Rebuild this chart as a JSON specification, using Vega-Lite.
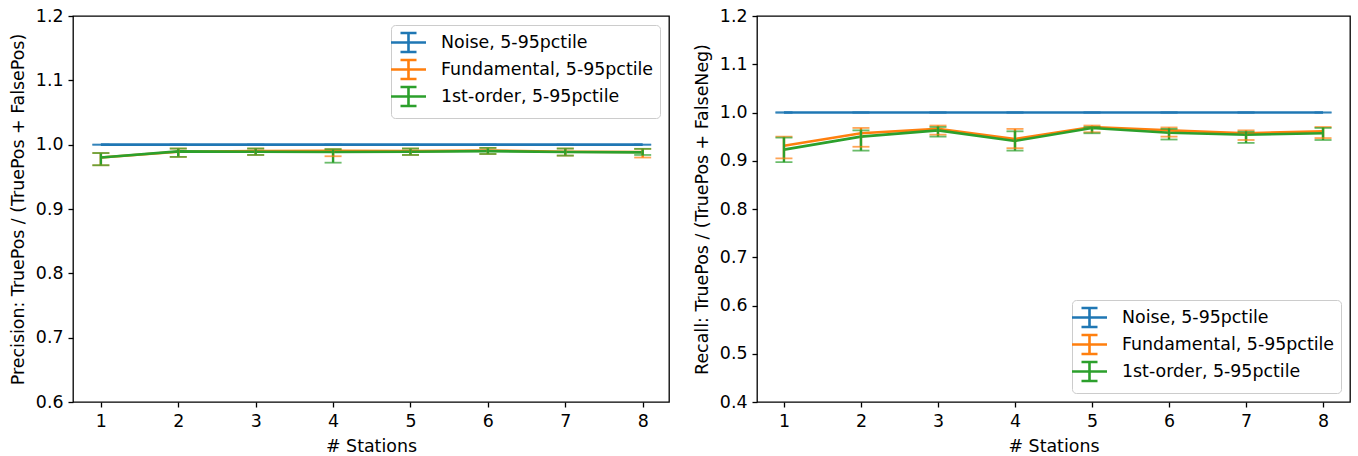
{
  "$schema": "https://vega.github.io/schema/vega-lite/v6.json",
  "background": "white",
  "padding": {"left": 8, "top": 6, "right": 5, "bottom": 2},
  "config": {
    "font": "DejaVu Sans",
    "view": {"stroke": "black", "strokeWidth": 1.3},
    "axis": {
      "grid": false, "domain": false, "tickColor": "black", "tickSize": 5, "tickWidth": 1.3,
      "labelFontSize": 17.4, "labelColor": "black", "titleFontSize": 17.4, "titleFontWeight": "normal",
      "titleColor": "black", "labelPadding": 5
    },
    "legend": {
      "labelFontSize": 17.4, "labelColor": "black", "strokeColor": "#cccccc", "fillColor": "white",
      "cornerRadius": 4, "padding": 6, "offset": 9, "symbolStrokeWidth": 2.6, "symbolSize": 400, "symbolOpacity": 1,
      "symbolType": "M-1.75,0H1.75M0,-0.95V0.95M-0.8,-0.95H0.8M-0.8,0.95H0.8", "rowPadding": -8,
      "labelOffset": 21, "labelLimit": 400, "titleFontSize": 0
    }
  },
  "datasets": {
    "prec": [
      {"series": "Noise, 5-95pctile", "stations": 1, "value": 1.0, "low": 1.0, "high": 1.0},
      {"series": "Noise, 5-95pctile", "stations": 2, "value": 1.0, "low": 1.0, "high": 1.0},
      {"series": "Noise, 5-95pctile", "stations": 3, "value": 1.0, "low": 1.0, "high": 1.0},
      {"series": "Noise, 5-95pctile", "stations": 4, "value": 1.0, "low": 1.0, "high": 1.0},
      {"series": "Noise, 5-95pctile", "stations": 5, "value": 1.0, "low": 1.0, "high": 1.0},
      {"series": "Noise, 5-95pctile", "stations": 6, "value": 1.0, "low": 1.0, "high": 1.0},
      {"series": "Noise, 5-95pctile", "stations": 7, "value": 1.0, "low": 1.0, "high": 1.0},
      {"series": "Noise, 5-95pctile", "stations": 8, "value": 1.0, "low": 1.0, "high": 1.0},
      {"series": "Fundamental, 5-95pctile", "stations": 1, "value": 0.980, "low": 0.968, "high": 0.987},
      {"series": "Fundamental, 5-95pctile", "stations": 2, "value": 0.989, "low": 0.981, "high": 0.994},
      {"series": "Fundamental, 5-95pctile", "stations": 3, "value": 0.990, "low": 0.984, "high": 0.994},
      {"series": "Fundamental, 5-95pctile", "stations": 4, "value": 0.9905, "low": 0.982, "high": 0.993},
      {"series": "Fundamental, 5-95pctile", "stations": 5, "value": 0.990, "low": 0.984, "high": 0.994},
      {"series": "Fundamental, 5-95pctile", "stations": 6, "value": 0.991, "low": 0.9855, "high": 0.995},
      {"series": "Fundamental, 5-95pctile", "stations": 7, "value": 0.989, "low": 0.983, "high": 0.994},
      {"series": "Fundamental, 5-95pctile", "stations": 8, "value": 0.9885, "low": 0.980, "high": 0.9935},
      {"series": "1st-order, 5-95pctile", "stations": 1, "value": 0.980, "low": 0.968, "high": 0.987},
      {"series": "1st-order, 5-95pctile", "stations": 2, "value": 0.9895, "low": 0.981, "high": 0.994},
      {"series": "1st-order, 5-95pctile", "stations": 3, "value": 0.989, "low": 0.984, "high": 0.994},
      {"series": "1st-order, 5-95pctile", "stations": 4, "value": 0.9885, "low": 0.972, "high": 0.993},
      {"series": "1st-order, 5-95pctile", "stations": 5, "value": 0.989, "low": 0.984, "high": 0.994},
      {"series": "1st-order, 5-95pctile", "stations": 6, "value": 0.990, "low": 0.9855, "high": 0.995},
      {"series": "1st-order, 5-95pctile", "stations": 7, "value": 0.9886, "low": 0.983, "high": 0.994},
      {"series": "1st-order, 5-95pctile", "stations": 8, "value": 0.988, "low": 0.984, "high": 0.9935}
    ],
    "rec": [
      {"series": "Noise, 5-95pctile", "stations": 1, "value": 1.0, "low": 1.0, "high": 1.0},
      {"series": "Noise, 5-95pctile", "stations": 2, "value": 1.0, "low": 1.0, "high": 1.0},
      {"series": "Noise, 5-95pctile", "stations": 3, "value": 1.0, "low": 1.0, "high": 1.0},
      {"series": "Noise, 5-95pctile", "stations": 4, "value": 1.0, "low": 1.0, "high": 1.0},
      {"series": "Noise, 5-95pctile", "stations": 5, "value": 1.0, "low": 1.0, "high": 1.0},
      {"series": "Noise, 5-95pctile", "stations": 6, "value": 1.0, "low": 1.0, "high": 1.0},
      {"series": "Noise, 5-95pctile", "stations": 7, "value": 1.0, "low": 1.0, "high": 1.0},
      {"series": "Noise, 5-95pctile", "stations": 8, "value": 1.0, "low": 1.0, "high": 1.0},
      {"series": "Fundamental, 5-95pctile", "stations": 1, "value": 0.931, "low": 0.905, "high": 0.950},
      {"series": "Fundamental, 5-95pctile", "stations": 2, "value": 0.957, "low": 0.929, "high": 0.968},
      {"series": "Fundamental, 5-95pctile", "stations": 3, "value": 0.966, "low": 0.954, "high": 0.973},
      {"series": "Fundamental, 5-95pctile", "stations": 4, "value": 0.945, "low": 0.926, "high": 0.966},
      {"series": "Fundamental, 5-95pctile", "stations": 5, "value": 0.970, "low": 0.959, "high": 0.973},
      {"series": "Fundamental, 5-95pctile", "stations": 6, "value": 0.963, "low": 0.950, "high": 0.969},
      {"series": "Fundamental, 5-95pctile", "stations": 7, "value": 0.957, "low": 0.943, "high": 0.963},
      {"series": "Fundamental, 5-95pctile", "stations": 8, "value": 0.961, "low": 0.947, "high": 0.970},
      {"series": "1st-order, 5-95pctile", "stations": 1, "value": 0.923, "low": 0.897, "high": 0.948},
      {"series": "1st-order, 5-95pctile", "stations": 2, "value": 0.950, "low": 0.921, "high": 0.963},
      {"series": "1st-order, 5-95pctile", "stations": 3, "value": 0.963, "low": 0.950, "high": 0.970},
      {"series": "1st-order, 5-95pctile", "stations": 4, "value": 0.941, "low": 0.921, "high": 0.961},
      {"series": "1st-order, 5-95pctile", "stations": 5, "value": 0.968, "low": 0.957, "high": 0.970},
      {"series": "1st-order, 5-95pctile", "stations": 6, "value": 0.958, "low": 0.944, "high": 0.966},
      {"series": "1st-order, 5-95pctile", "stations": 7, "value": 0.954, "low": 0.937, "high": 0.960},
      {"series": "1st-order, 5-95pctile", "stations": 8, "value": 0.957, "low": 0.943, "high": 0.968}
    ]
  },
  "spacing": 22,
  "resolve": {"scale": {"color": "independent"}, "legend": {"color": "independent"}},
  "hconcat": [
    {
      "width": 596, "height": 386,
      "data": {"name": "prec"},
      "encoding": {
        "x": {"field": "stations", "type": "quantitative", "scale": {"domain": [0.64, 8.34], "nice": false, "zero": false},
              "axis": {"values": [1,2,3,4,5,6,7,8], "title": "# Stations", "titlePadding": 8}},
        "color": {"field": "series", "type": "nominal",
                  "scale": {"domain": ["Noise, 5-95pctile", "Fundamental, 5-95pctile", "1st-order, 5-95pctile"], "range": ["#1f77b4", "#ff7f0e", "#2ca02c"]},
                  "legend": {"orient": "top-right", "title": null}}
      },
      "layer": [
        {"mark": {"type": "line", "strokeWidth": 2.6},
         "encoding": {"y": {"field": "value", "type": "quantitative", "scale": {"domain": [0.6, 1.2], "nice": false, "zero": false},
                            "axis": {"values": [0.6,0.7,0.8,0.9,1.0,1.1,1.2], "format": ".1f", "title": "Precision: TruePos / (TruePos + FalsePos)", "titlePadding": 8}}}},
        {"mark": {"type": "rule", "strokeWidth": 2.4},
         "encoding": {"y": {"field": "low", "type": "quantitative"}, "y2": {"field": "high"}}},
        {"mark": {"type": "tick", "orient": "horizontal", "size": 17, "thickness": 1.8},
         "encoding": {"y": {"field": "low", "type": "quantitative"}}},
        {"mark": {"type": "tick", "orient": "horizontal", "size": 17, "thickness": 1.8},
         "encoding": {"y": {"field": "high", "type": "quantitative"}}}
      ]
    },
    {
      "width": 593, "height": 386,
      "data": {"name": "rec"},
      "encoding": {
        "x": {"field": "stations", "type": "quantitative", "scale": {"domain": [0.65, 8.35], "nice": false, "zero": false},
              "axis": {"values": [1,2,3,4,5,6,7,8], "title": "# Stations", "titlePadding": 8}},
        "color": {"field": "series", "type": "nominal",
                  "scale": {"domain": ["Noise, 5-95pctile", "Fundamental, 5-95pctile", "1st-order, 5-95pctile"], "range": ["#1f77b4", "#ff7f0e", "#2ca02c"]},
                  "legend": {"orient": "bottom-right", "title": null}}
      },
      "layer": [
        {"mark": {"type": "line", "strokeWidth": 2.6},
         "encoding": {"y": {"field": "value", "type": "quantitative", "scale": {"domain": [0.4, 1.2], "nice": false, "zero": false},
                            "axis": {"values": [0.4,0.5,0.6,0.7,0.8,0.9,1.0,1.1,1.2], "format": ".1f", "title": "Recall: TruePos / (TruePos + FalseNeg)", "titlePadding": 8}}}},
        {"mark": {"type": "rule", "strokeWidth": 2.4},
         "encoding": {"y": {"field": "low", "type": "quantitative"}, "y2": {"field": "high"}}},
        {"mark": {"type": "tick", "orient": "horizontal", "size": 17, "thickness": 1.8},
         "encoding": {"y": {"field": "low", "type": "quantitative"}}},
        {"mark": {"type": "tick", "orient": "horizontal", "size": 17, "thickness": 1.8},
         "encoding": {"y": {"field": "high", "type": "quantitative"}}}
      ]
    }
  ]
}
